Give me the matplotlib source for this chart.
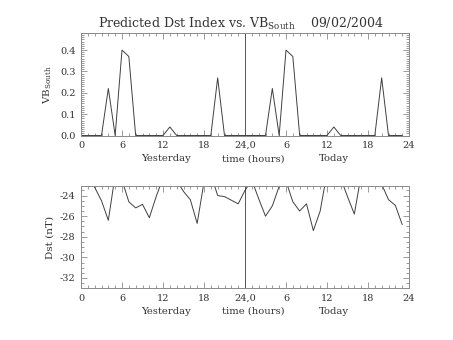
import matplotlib
matplotlib.use("Agg")
import matplotlib.pyplot as plt
from matplotlib.ticker import MultipleLocator, FixedLocator, FixedFormatter, FormatStrFormatter
import numpy as np

plt.rcParams['font.family'] = ['DejaVu Serif']
plt.rcParams['mathtext.fontset'] = 'dejavuserif'
plt.rcParams['axes.unicode_minus'] = False

# ---- data ----
hours = list(range(48))
vb_south = [0, 0, 0, 0, 0.22, 0, 0.40, 0.37, 0, 0, 0, 0,
            0, 0.04, 0, 0, 0, 0, 0, 0, 0.27, 0, 0, 0,
            0, 0, 0, 0, 0.22, 0, 0.40, 0.37, 0, 0, 0, 0,
            0, 0.04, 0, 0, 0, 0, 0, 0, 0.27, 0, 0, 0]
dst = [-22.6, -22.4, -23.2, -24.5, -26.4, -22.0, -22.5, -24.6, -25.2, -24.85, -26.15, -24.1,
       -22.3, -22.0, -22.5, -23.6, -24.4, -26.7, -22.7, -21.9, -24.0, -24.1, -24.45, -24.8,
       -23.5, -22.5, -24.3, -26.0, -25.0, -23.1, -22.6, -24.6, -25.5, -24.8, -27.4, -25.5,
       -21.8, -22.0, -22.3, -24.1, -25.8, -22.0, -21.8, -22.2, -22.9, -24.4, -24.95, -26.8]
xtick_pos = [0, 6, 12, 18, 24, 30, 36, 42, 48]
xtick_lab = ['0', '6', '12', '18', '24,0', '6', '12', '18', '24']
day_labels = ['Yesterday', 'time (hours)', 'Today']
day_pos = [12.4, 25.2, 37.0]
title = r'Predicted Dst Index vs. VB$_{\rm South}$    09/02/2004'

TXT = '#333333'
AX = '#8a8a8a'
LINE = '#404040'

fig = plt.figure(figsize=(4.53, 3.40), dpi=100)
W, H = 453, 340

def axes_px(l, r, t, b):
    return fig.add_axes([l / W, 1 - b / H, (r - l) / W, (b - t) / H])

ax1 = axes_px(81, 409, 33, 135.5)
ax2 = axes_px(81, 409, 186.3, 288.3)

for ax in (ax1, ax2):
    ax.set_xlim(0, 48)
    ax.xaxis.set_major_locator(FixedLocator(xtick_pos))
    ax.xaxis.set_major_formatter(FixedFormatter(xtick_lab))
    ax.xaxis.set_minor_locator(MultipleLocator(1))
    ax.tick_params(which='both', direction='in', top=True, right=True,
                   color=AX, labelcolor=TXT, labelsize=7, width=0.6)
    ax.tick_params(which='major', length=4, pad=4)
    ax.tick_params(which='minor', length=2)
    for s in ax.spines.values():
        s.set_color(AX)
        s.set_linewidth(0.7)
    ax.axvline(24, color='#555555', lw=0.7)
    for p, lab in zip(day_pos, day_labels):
        ax.text(p, -0.25, lab, transform=ax.get_xaxis_transform(),
                ha='center', va='baseline', fontsize=7.2, color=TXT)

ax1.plot(hours, vb_south, color=LINE, lw=0.7, clip_on=True)
ax1.set_ylim(0, 0.48)
ax1.yaxis.set_major_locator(MultipleLocator(0.1))
ax1.yaxis.set_minor_locator(MultipleLocator(0.01))
ax1.yaxis.set_major_formatter(FormatStrFormatter('%.1f'))
ax1.set_ylabel(r'VB$_{\rm South}$', fontsize=7.5, color=TXT, labelpad=4)

ax2.plot(hours, dst, color=LINE, lw=0.7, clip_on=True)
ax2.set_ylim(-33, -23.1)
ax2.yaxis.set_major_locator(FixedLocator([-32, -30, -28, -26, -24]))
ax2.yaxis.set_major_formatter(FormatStrFormatter('%d'))
ax2.yaxis.set_minor_locator(MultipleLocator(0.5))
ax2.set_ylabel('Dst (nT)', fontsize=7.5, color=TXT, labelpad=4)

fig.text(241 / W, 1 - 24 / H, title, ha='center', va='center',
         fontsize=9, color=TXT)

fig.savefig('out.png', dpi=100, facecolor='white')
